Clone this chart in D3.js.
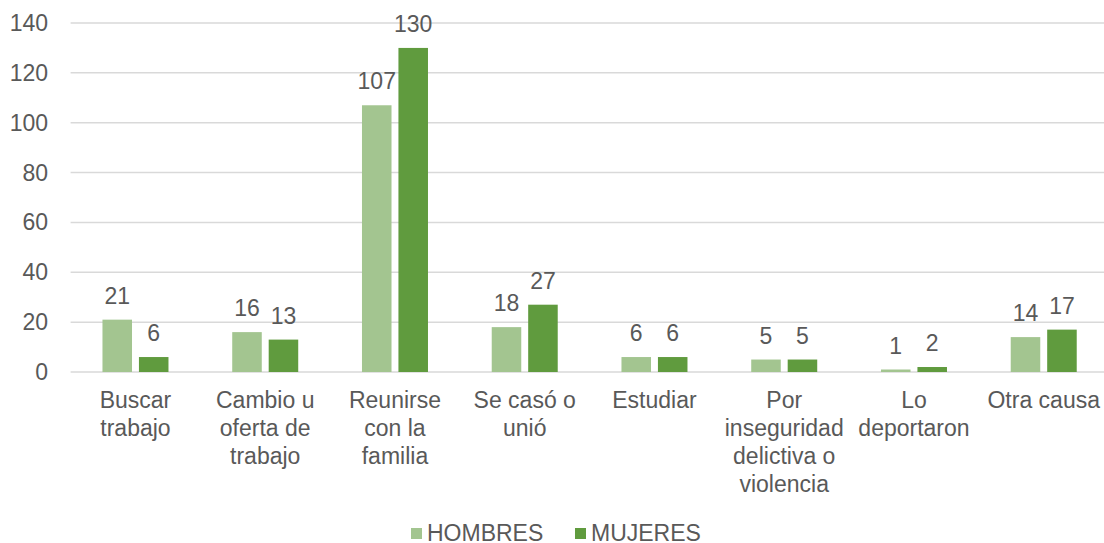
<!DOCTYPE html>
<html>
<head>
<meta charset="utf-8">
<script src="https://cdn.jsdelivr.net/npm/d3@7"></script>
<style>
  body { margin: 0; background: #fff; }
  svg text { font-family: "Liberation Sans", Arial, sans-serif; fill: #595959; }
</style>
</head>
<body>
<svg width="1104" height="543"></svg>
<script>
var categories = [
  ["Buscar", "trabajo"],
  ["Cambio u", "oferta de", "trabajo"],
  ["Reunirse", "con la", "familia"],
  ["Se casó o", "unió"],
  ["Estudiar"],
  ["Por", "inseguridad", "delictiva o", "violencia"],
  ["Lo", "deportaron"],
  ["Otra causa"]
];
var hombres = [21, 16, 107, 18, 6, 5, 1, 14];
var mujeres = [6, 13, 130, 27, 6, 5, 2, 17];
var seriesNames = ["HOMBRES", "MUJERES"];
var colors = ["#a3c590", "#609b3e"];
var yTicks = [0, 20, 40, 60, 80, 100, 120, 140];

var svg = d3.select('svg');
var plotLeft = 70.6, plotRight = 1108.6, plotTop = 23, plotBottom = 372;
var fs = 23;

var x = d3.scaleBand().domain(d3.range(categories.length)).range([plotLeft, plotRight]);
var y = d3.scaleLinear().domain([0, 140]).range([plotBottom, plotTop]);
var inner = d3.scaleBand().domain([0, 1]).range([0, 66]).paddingInner(0.19);

// gridlines
svg.append('g').selectAll('line').data(yTicks).enter().append('line')
  .attr('x1', plotLeft).attr('x2', plotRight)
  .attr('y1', function(d){ return y(d); })
  .attr('y2', function(d){ return y(d); })
  .attr('stroke', '#d9d9d9')
  .attr('stroke-width', 1.5);

// y tick labels
svg.append('g').selectAll('text').data(yTicks).enter().append('text')
  .attr('x', 48)
  .attr('y', function(d){ return y(d); })
  .attr('dy', '0.35em')
  .attr('text-anchor', 'end')
  .attr('font-size', fs)
  .text(function(d){ return d; });

var series = [hombres, mujeres];
series.forEach(function(vals, s){
  var g = svg.append('g');
  g.selectAll('rect').data(vals).enter().append('rect')
    .attr('x', function(d, i){ return x(i) + x.bandwidth() / 2 - 33 + inner(s); })
    .attr('y', function(d){ return y(d); })
    .attr('width', inner.bandwidth())
    .attr('height', function(d){ return y(0) - y(d); })
    .attr('fill', colors[s]);
  g.selectAll('text').data(vals).enter().append('text')
    .attr('x', function(d, i){ return x(i) + x.bandwidth() / 2 - 33 + inner(s) + inner.bandwidth() / 2; })
    .attr('y', function(d){ return y(d) - 16; })
    .attr('text-anchor', 'middle')
    .attr('font-size', fs)
    .text(function(d){ return d; });
});

// category labels
var cat = svg.append('g').selectAll('text').data(categories).enter().append('text')
  .attr('x', function(d, i){ return x(i) + x.bandwidth() / 2; })
  .attr('y', 408)
  .attr('text-anchor', 'middle')
  .attr('font-size', fs);
cat.selectAll('tspan').data(function(d){ return d; }).enter().append('tspan')
  .attr('x', function(){ return d3.select(this.parentNode).attr('x'); })
  .attr('dy', function(d, i){ return i === 0 ? 0 : 28; })
  .text(function(d){ return d; });

// legend
var legX = [411, 575];
seriesNames.forEach(function(name, s){
  svg.append('rect')
    .attr('x', legX[s]).attr('y', 528)
    .attr('width', 11).attr('height', 11)
    .attr('fill', colors[s]);
  svg.append('text')
    .attr('x', legX[s] + 16).attr('y', 541)
    .attr('font-size', fs)
    .text(name);
});
</script>
</body>
</html>
